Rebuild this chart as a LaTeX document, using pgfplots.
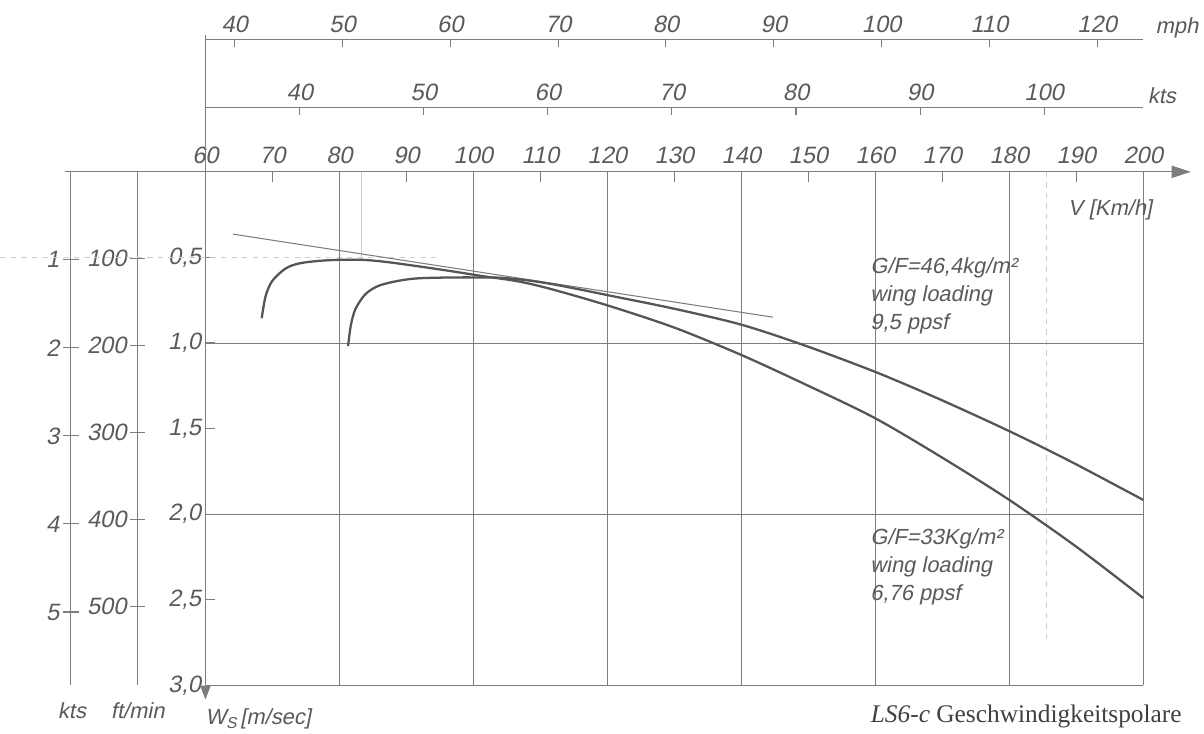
\documentclass[border=0pt]{standalone}
\usepackage{fontspec}
\setmainfont{Liberation Sans}[FakeSlant=0.2]
\newfontfamily\capfont{Liberation Serif}
\usepackage{pgfplots}
\pgfplotsset{compat=1.18}
\usetikzlibrary{arrows.meta}

\definecolor{ink}{RGB}{90,90,90}
\definecolor{lineink}{RGB}{125,125,125}
\definecolor{curveink}{RGB}{85,85,85}
\definecolor{pencil}{RGB}{205,205,205}

\newcommand{\lbl}{\fontsize{12.5}{16}\selectfont}
\newcommand{\num}{\fontsize{13.5}{16}\selectfont}

\pgfplotsset{
  aux/.style={
    scale only axis,
    axis line style={lineink,-,line width=0.6pt},
    tick style={lineink,line width=0.6pt},
    tick label style={font=\num,text=ink},
    /pgf/number format/assume math mode=true,
  },
}

\begin{document}
\begin{tikzpicture}
\begin{scope}[x=0.02cm,y=-0.02cm]
\useasboundingbox (0,0) rectangle (1204,732);
\end{scope}

% mph scale
\begin{axis}[aux, at={(4.12cm,-0.786cm)}, anchor=north west,
  width=18.83cm, height=1cm,
  xmin=37.282, xmax=124.274, ymin=0, ymax=1,
  hide y axis, axis x line*=top,
  xtick={40,50,...,120}, tick align=inside, major tick length=0.16cm]
\end{axis}

% kts scale (top)
\begin{axis}[aux, at={(4.12cm,-2.154cm)}, anchor=north west,
  width=18.83cm, height=1cm,
  xmin=32.397, xmax=107.991, ymin=0, ymax=1,
  hide y axis, axis x line*=top,
  xtick={40,50,...,100}, tick align=inside, major tick length=0.16cm]
\end{axis}

% kts scale (left)
\begin{axis}[aux, at={(1.42cm,-3.448cm)}, anchor=north west,
  width=1cm, height=10.31cm,
  xmin=0, xmax=1, ymin=0, ymax=5.8315, y dir=reverse,
  hide x axis, axis y line*=left,
  ytick={1,2,3,4,5}, tick align=center, major tick length=0.32cm,
  yticklabel style={xshift=0.05cm}]
\end{axis}

% ft/min scale (left)
\begin{axis}[aux, at={(2.76cm,-3.448cm)}, anchor=north west,
  width=1cm, height=10.31cm,
  xmin=0, xmax=1, ymin=0, ymax=590.55, y dir=reverse,
  hide x axis, axis y line*=left,
  ytick={100,200,300,400,500}, tick align=center, major tick length=0.3cm,
  yticklabel style={xshift=0.05cm}]
\end{axis}

% main polar
\begin{axis}[aux, at={(4.12cm,-13.76cm)}, anchor=south west,
  width=18.83cm, height=10.31cm,
  xmin=60, xmax=200, ymin=0, ymax=3, y dir=reverse, clip=false,
  axis line style={draw=none},
  xtick={60,70,...,200}, ytick={0.5,1,...,3},
  xtick pos=right, xticklabel pos=right, ytick pos=left,
  tick align=inside, major tick length=0.2cm,
  xticklabel style={yshift=1pt},
  yticklabel style={xshift=1pt, /pgf/number format/.cd, fixed, fixed zerofill, precision=1, use comma},
]
% pencil construction lines
\draw[pencil, dashed, line width=0.5pt] (axis cs:29.4,0.5) -- (axis cs:94.8,0.5);
\draw[pencil, line width=0.5pt] (axis cs:83.35,0) -- (axis cs:83.35,0.52);
\draw[pencil, dashed, line width=0.5pt] (axis cs:185.5,0) -- (axis cs:185.5,2.75);
% grid
\pgfplotsinvokeforeach{80,100,120,140,160,180,200}{
  \draw[lineink, line width=0.5pt] (axis cs:#1,0) -- (axis cs:#1,3);
}
\draw[lineink, line width=0.5pt] (axis cs:60,1) -- (axis cs:200,1);
\draw[lineink, line width=0.5pt] (axis cs:60,2) -- (axis cs:200,2);
\draw[lineink, line width=0.6pt] (axis cs:60,3) -- (axis cs:200,3);
% axes with arrows
\draw[lineink, line width=0.6pt, -{Triangle[width=7pt,length=11pt]}] (axis cs:39.0,0) -- (axis cs:207.1,0);
\draw[lineink, line width=0.6pt, -{Triangle[width=6pt,length=8pt]}] (axis cs:60,-0.80) -- (axis cs:60,3.083);

% tangent
\addplot[lineink, line width=0.6pt] coordinates {(64.1,0.364) (144.7,0.849)};

% G/F = 33 kg/m^2
\addplot[curveink, line width=1.3pt, smooth] coordinates {
(68.4,0.855)(69.0,0.724)(70.0,0.636)(72.0,0.564)(74.0,0.535)(77.0,0.520)
(80.0,0.514)(83.4,0.514)(86.9,0.526)(91.8,0.552)(96.8,0.581)(101.7,0.611)
(106.7,0.640)(111.6,0.685)(120,0.78)(130,0.91)(140,1.07)(150,1.25)
(160,1.44)(170,1.67)(180,1.917)(190,2.19)(200,2.49)};

% G/F = 46,4 kg/m^2
\addplot[curveink, line width=1.3pt, smooth] coordinates {
(81.3,1.018)(81.7,0.898)(82.4,0.801)(83.9,0.714)(85.9,0.665)(88.9,0.636)
(91.8,0.622)(96.8,0.617)(101.7,0.617)(104.2,0.619)(107.7,0.632)(111.6,0.655)
(115.6,0.685)(120,0.72)(130,0.80)(140,0.893)(149.5,1.015)(160,1.169)
(169.4,1.325)(180,1.515)(189.2,1.693)(200,1.917)};
\end{axis}

\begin{scope}[x=0.02cm,y=-0.02cm,font=\lbl,text=ink]
\node at (1181,28) {mph};
\node at (1166,96) {kts};
\node at (1114,211) {V [Km/h]};
\node[anchor=north west, align=left, inner sep=0pt] at (873,258)
  {G/F=46,4kg/m²\\wing loading\\9,5 ppsf};
\node[anchor=north west, align=left, inner sep=0pt] at (873,530)
  {G/F=33Kg/m²\\wing loading\\6,76 ppsf};
\node at (72,713) {kts};
\node at (138,713) {ft/min};
\node[anchor=west, inner sep=1pt] at (204,721)
  {W\raisebox{-0.35ex}{\fontsize{9}{10}\selectfont S}\,[m/sec]};
\node[anchor=east, text=black!75, font=\capfont\fontsize{14.5}{17}\selectfont] at (1192,719)
  {\textit{LS6-c} Geschwindigkeitspolare};
\end{scope}
\end{tikzpicture}
\end{document}
